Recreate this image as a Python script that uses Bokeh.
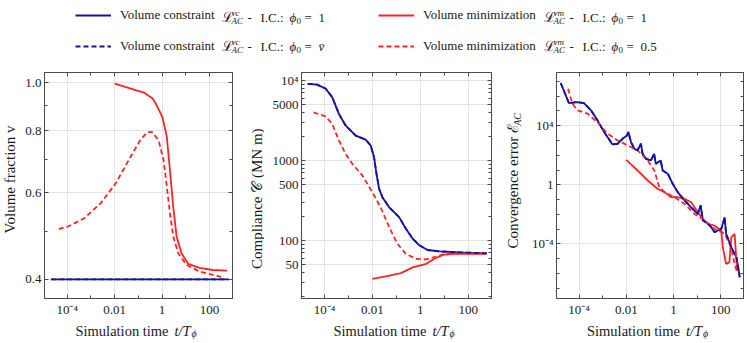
from math import pi
from bokeh.plotting import figure
from bokeh.models import Range1d, FixedTicker, LogAxis, Legend, LegendItem
from bokeh.layouts import column, row
from bokeh.embed import file_html
from bokeh.resources import INLINE
from bokeh.core.properties import value

# ---------------- data ----------------
time_ticks = [1e-4, 1e-2, 1, 100]
time_tick_labels = ["10⁻⁴", "0.01", "1", "100"]
time_minor = [1e-5, 1e-3, 1e-1, 10, 1000]

legend_main = ["Volume constraint", "Volume constraint", "Volume minimization", "Volume minimization"]
legend_sup = ["vc", "vc", "vm", "vm"]
legend_ic = ["1", "v̄", "1", "0.5"]

# Panel 1 : volume fraction
vf_ticks = [0.4, 0.6, 0.8, 1.0]
vf_tick_labels = ["0.4", "0.6", "0.8", "1.0"]
vf_minor = [0.5, 0.7, 0.9]
t_vf_con = [2.1e-5, 630]
vf_con = [0.4, 0.4]
t_vf_min1 = [0.01, 0.17, 0.4, 0.6, 1.02, 1.58, 2.14, 2.95, 4.07, 6.6, 12.6, 38, 138, 550]
vf_min1 = [0.997, 0.956, 0.93, 0.90, 0.854, 0.778, 0.666, 0.562, 0.489, 0.452, 0.430, 0.422, 0.418, 0.417]
t_vf_min05 = [4.4e-5, 1.07e-4, 5.2e-4, 2.6e-3, 0.011, 0.047, 0.12, 0.23, 0.37, 0.71, 1.15, 1.58,
              2.14, 2.95, 4.8, 10.7, 38, 138, 309]
vf_min05 = [0.506, 0.512, 0.532, 0.571, 0.626, 0.709, 0.766, 0.794, 0.796, 0.766, 0.698, 0.617,
            0.545, 0.489, 0.452, 0.428, 0.415, 0.4085, 0.405]

# Panel 2 : compliance (MN m)
comp_ticks = [50, 100, 500, 1000, 5000, 10000]
comp_tick_labels = ["50", "100", "500", "1000", "5000", "10⁴"]
comp_minor = [20, 30, 40, 60, 70, 80, 90, 200, 300, 400, 600, 700, 800, 900,
              2000, 3000, 4000, 6000, 7000, 8000, 9000]
t_c_con = [2.0e-5, 4.9e-5, 1.1e-4, 2.1e-4, 4.0e-4, 7.6e-4, 2.0e-3, 5.2e-3, 8.5e-3, 0.0117, 0.0148,
           0.019, 0.026, 0.05, 0.13, 0.25, 0.48, 0.91, 2.0, 6.3, 44, 600]
c_con = [9100, 8900, 7950, 6200, 3830, 2740, 2050, 1820, 1540, 1100, 680,
         443, 348, 260, 196, 140, 105, 87, 76, 73, 71, 69]
t_c_min1 = [0.01, 0.036, 0.155, 0.48, 1.74, 3.9, 8.7, 23, 550]
c_min1 = [33, 35.5, 39, 46, 51, 59, 66, 68, 68]
t_c_min05 = [3.5e-5, 1.1e-4, 2.1e-4, 4.0e-4, 7.6e-4, 1.45e-3, 3.8e-3, 0.01, 0.022, 0.05, 0.11,
             0.25, 0.66, 1.74, 4.6, 12, 600]
c_min05 = [3990, 3560, 2870, 1780, 1210, 910, 650, 400, 260, 147, 91,
           68, 59, 58, 63, 69, 69]

# Panel 3 : convergence error
err_ticks = [1e-4, 1, 1e4]
err_tick_labels = ["10⁻⁴", "1", "10⁴"]
err_minor = [1e-7, 1e-6, 1e-5, 1e-3, 1e-2, 1e-1, 10, 100, 1000, 1e5, 1e6, 1e7]
t_e_con = [1.66e-5, 3.7e-5, 8.5e-5, 1.6e-4, 3.2e-4, 6.0e-4, 1.15e-3, 2.6e-3, 4.3e-3, 6.9e-3,
           0.0107, 0.0123, 0.0158, 0.0219, 0.030, 0.0417, 0.049, 0.069, 0.112, 0.151, 0.178,
           0.288, 0.347, 0.575, 0.93, 1.51, 2.95, 5.6, 10.7, 14.1, 17.8, 28.8, 39.8, 55, 107,
           148, 170, 282, 468, 646]
e_con = [7.8e6, 3.4e5, 4.0e5, 3.4e5, 1.1e5, 2.3e4, 3.7e3, 540, 600, 1300,
         2200, 3700, 780, 275, 214, 600, 126, 57, 45, 126, 26,
         45, 9.3, 5.6, 1.17, 0.32, 0.087, 0.030, 0.0107, 0.040, 3.8e-3, 2.3e-3, 1.35e-3, 6.2e-4, 1.05e-3,
         6.3e-3, 4.8e-4, 5.9e-5, 1.2e-5, 5.5e-7]
t_e_min1 = [0.01, 0.030, 0.081, 0.21, 0.42, 0.79, 1.51, 2.95, 5.6, 7.8, 15.1, 28.8, 55, 107,
            123, 170, 234, 282, 389, 500]
e_min1 = [49, 9.3, 1.95, 0.54, 0.32, 0.145, 0.145, 0.112, 0.066, 0.030, 6.3e-3, 2.3e-3, 1.74e-3, 7.9e-4,
          5.9e-5, 4.4e-6, 5.6e-6, 2.8e-4, 4.8e-4, 1.5e-6]
t_e_min05 = [3.4e-5, 5.2e-5, 8.5e-5, 2.3e-4, 6.0e-4, 1.6e-3, 4.3e-3, 0.0115, 0.030, 0.081, 0.155,
             0.25, 0.42, 1.1, 2.95, 7.8, 20.9, 55, 148, 282, 389, 500]
e_min05 = [3.2e6, 3.1e5, 1.1e5, 6.5e4, 1.7e4, 2.9e3, 1000, 460, 214, 45, 9.3,
           0.69, 0.32, 0.145, 0.051, 0.0107, 3.8e-3, 1.05e-3, 4.8e-4, 5.9e-5, 4.4e-6, 1.2e-6]

# ---------------- style ----------------
FONT = "Liberation Serif"
TXT = "#1a1a1a"
FRAME = "#4a4a4a"
GRID = "#e4e4e4"
BLUE = "#1414a2"
RED = "#ff2424"
DASH = "5 3"
LW = 1.8
ROW_H = 260


def style_axis(ax, hidden=False):
    ax.axis_line_color = FRAME
    ax.major_tick_line_color = FRAME
    ax.minor_tick_line_color = FRAME
    ax.major_tick_in = 4
    ax.major_tick_out = 0
    ax.minor_tick_in = 3
    ax.minor_tick_out = 0
    ax.major_label_text_font = FONT
    ax.major_label_text_color = TXT
    ax.major_label_standoff = 3
    ax.major_label_text_font_size = "13px"
    if hidden:
        ax.major_label_text_font_size = "1px"
        ax.major_label_text_alpha = 0
        ax.major_label_standoff = 0


def make_panel(w, bl, br, yr, yt, yl, ym):
    p = figure(width=w, height=ROW_H, x_axis_type="log", y_axis_type="log",
               x_range=Range1d(1.1e-5, 930), y_range=Range1d(*yr),
               output_backend="svg", toolbar_location=None,
               min_border_left=bl, min_border_right=br, min_border_top=12, min_border_bottom=22)
    p.background_fill_color = "white"
    p.border_fill_color = "white"
    p.outline_line_color = FRAME
    xt = FixedTicker(ticks=time_ticks, minor_ticks=time_minor)
    ytk = FixedTicker(ticks=yt, minor_ticks=ym)
    xa = p.xaxis[0]
    ya = p.yaxis[0]
    xa.ticker = xt
    ya.ticker = ytk
    xa.major_label_overrides = dict(zip(time_ticks, time_tick_labels))
    ya.major_label_overrides = dict(zip(yt, yl))
    style_axis(xa)
    style_axis(ya)
    top = LogAxis(ticker=xt)
    right = LogAxis(ticker=ytk)
    style_axis(top, hidden=True)
    style_axis(right, hidden=True)
    p.add_layout(top, "above")
    p.add_layout(right, "right")
    p.xgrid.grid_line_color = GRID
    p.ygrid.grid_line_color = GRID
    p.xgrid.ticker = xt
    p.ygrid.ticker = ytk
    return p


def series(p, t_con, y_con, t_m1, y_m1, t_m05, y_m05):
    p.line(t_con, y_con, line_color=BLUE, line_width=LW)
    p.line(t_m1, y_m1, line_color=RED, line_width=LW)
    p.line(t_m05, y_m05, line_color=RED, line_width=LW, line_dash=DASH)
    p.line(t_con, y_con, line_color=BLUE, line_width=LW, line_dash=DASH)


def strip(w, h):
    s = figure(width=w, height=h, x_range=Range1d(0, w), y_range=Range1d(h, 0),
               output_backend="svg", toolbar_location=None,
               x_axis_location=None, y_axis_location=None,
               min_border_left=0, min_border_right=0, min_border_top=0, min_border_bottom=0)
    s.outline_line_color = None
    s.background_fill_color = "white"
    s.border_fill_color = "white"
    s.grid.visible = False
    return s


def put(s, x, y, txt, size, style="normal", angle=0.0, align="left"):
    s.text(x=[x], y=[y], text=[txt], text_font=value(FONT), text_font_size=value(f"{size}px"),
           text_font_style=value(style), angle=angle, text_align=value(align),
           text_baseline=value("middle"), text_color=TXT)


# ---------------- panels ----------------
p1 = make_panel(226, 22, 16, (0.366, 1.05), vf_ticks, vf_tick_labels, vf_minor)
series(p1, t_vf_con, vf_con, t_vf_min1, vf_min1, t_vf_min05, vf_min05)

p2 = make_panel(240, 37, 13, (18.8, 12600), comp_ticks, comp_tick_labels, comp_minor)
series(p2, t_c_con, c_con, t_c_min1, c_min1, t_c_min05, c_min05)

p3 = make_panel(223, 32, 4, (2.0e-8, 4.0e7), err_ticks, err_tick_labels, err_minor)
series(p3, t_e_con, e_con, t_e_min1, e_min1, t_e_min05, e_min05)

# ---------------- y-axis titles ----------------
yl1 = strip(22, ROW_H)
put(yl1, 9, 123, "Volume fraction v", 15, angle=pi / 2, align="center")

yl2 = strip(16, ROW_H)
put(yl2, 8, 143, "Compliance 𝒞  (MN m)", 15, angle=pi / 2, align="center")

yl3 = strip(20, ROW_H)
put(yl3, 8, 131, "Convergence error ℰ", 15, angle=pi / 2, align="center")
put(yl3, 13, 54, "AC", 10, "italic", angle=pi / 2, align="center")

# ---------------- x-axis titles ----------------
xl = strip(747, 23)
for c in (138, 396, 649.5):
    put(xl, c - 63, 10, "Simulation time", 14.5)
    put(xl, c + 36, 10, "t/T", 14.5, "italic")
    put(xl, c + 53, 13, "ϕ", 10, "italic")

# ---------------- legend ----------------
lf = strip(747, 60)
lf.extra_y_ranges = {"hidden": Range1d(1e6, 2e6)}
colors = [BLUE, BLUE, RED, RED]
dashes = ["solid", DASH, "solid", DASH]
src = [(t_vf_con, vf_con), (t_vf_con, vf_con), (t_vf_min1, vf_min1), (t_vf_min05, vf_min05)]
rends = [lf.line(src[i][0], src[i][1], y_range_name="hidden", line_color=colors[i],
                 line_width=2, line_dash=dashes[i]) for i in range(4)]
for k, loc in enumerate([(75, 6), (378, 6)]):
    leg = Legend(items=[LegendItem(label=legend_main[2 * k + j], renderers=[rends[2 * k + j]]) for j in range(2)],
                 location=loc, orientation="vertical", glyph_width=36, glyph_height=14,
                 label_height=14, label_standoff=9, spacing=15, padding=0, margin=0,
                 border_line_color=None, background_fill_alpha=0,
                 label_text_font=FONT, label_text_font_size="13px", label_text_color=TXT)
    lf.add_layout(leg)

row_y = [17, 46]
L_pos = [221, 543]
for i in range(4):
    L = L_pos[i // 2]
    y = row_y[i % 2]
    put(lf, L, y, "ℒ", 14)
    put(lf, L + 10, y - 4.5, legend_sup[i], 9, "italic")
    put(lf, L + 10, y + 3.5, "AC", 9, "italic")
    put(lf, L + 26, y, "-", 13)
    put(lf, L + 39, y, "I.C.:", 13)
    put(lf, L + 68, y, "ϕ", 13, "italic")
    put(lf, L + 75, y + 3, "0", 9)
    put(lf, L + 83, y, "=", 13)
    put(lf, L + 97, y, legend_ic[i], 13, "italic" if legend_ic[i] == "v̄" else "normal")

layout = column(lf, row(yl1, p1, yl2, p2, yl3, p3), xl)
open("out.html", "w").write(file_html(layout, INLINE))
